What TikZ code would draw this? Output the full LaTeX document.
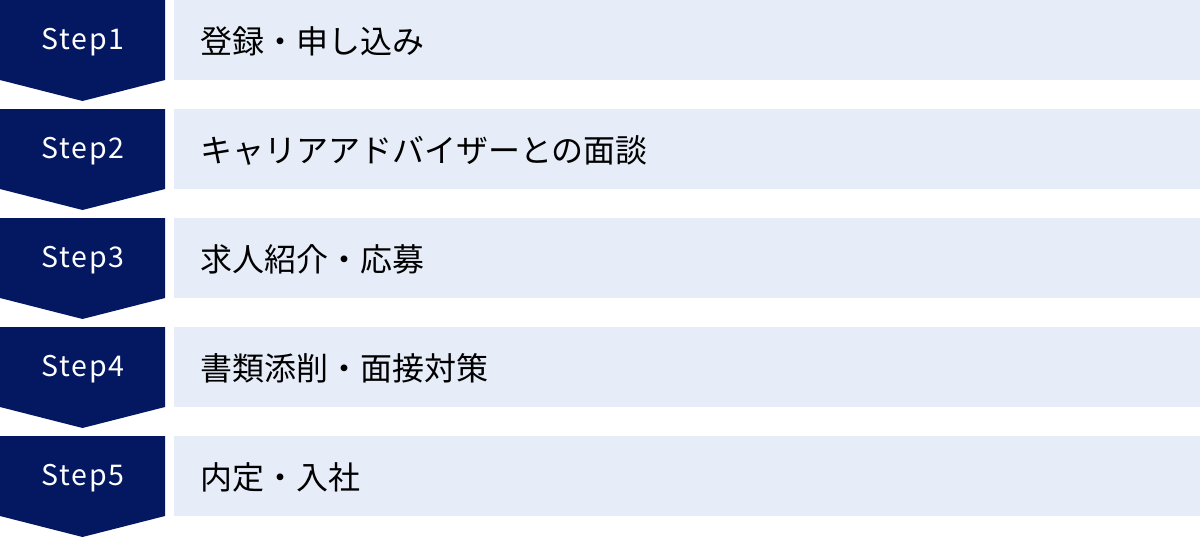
\documentclass[tikz,border=0pt]{standalone}
\usepackage{fontspec}
\setmainfont{Noto Sans CJK JP}
\definecolor{navy}{HTML}{041862}
\definecolor{pale}{HTML}{E6ECF8}
\tikzset{
  x=1pt,y=-1pt,
  stepshape/.style={fill=navy,draw=none},
  bar/.style={fill=pale,draw=none},
  steplabel/.style={text=white,font=\fontsize{28.5}{32}\selectfont\addfontfeatures{LetterSpace=6},anchor=center,inner sep=0},
  barlabel/.style={text=black,font=\fontsize{32}{38}\selectfont,anchor=west,inner sep=0}
}
\begin{document}
\begin{tikzpicture}
\useasboundingbox (0,0) rectangle (1200,538);
\foreach \i/\t in {0/登録・申し込み,1/キャリアアドバイザーとの面談,2/求人紹介・応募,3/書類添削・面接対策,4/内定・入社}{
  \pgfmathsetmacro{\yy}{\i*109}
  \fill[stepshape] (0,\yy) -- (165,\yy) -- (165,\yy+80) -- (82.5,\yy+101) -- (0,\yy+80) -- cycle;
  \fill[bar] (174,\yy) rectangle (1200,\yy+80);
  \pgfmathtruncatemacro{\n}{\i+1}
  \node[steplabel] (s\n) at (83,\yy+42) {Step\n};
  \node[barlabel] (b\n) at (200,\yy+41) {\t};
}
\end{tikzpicture}
\end{document}
